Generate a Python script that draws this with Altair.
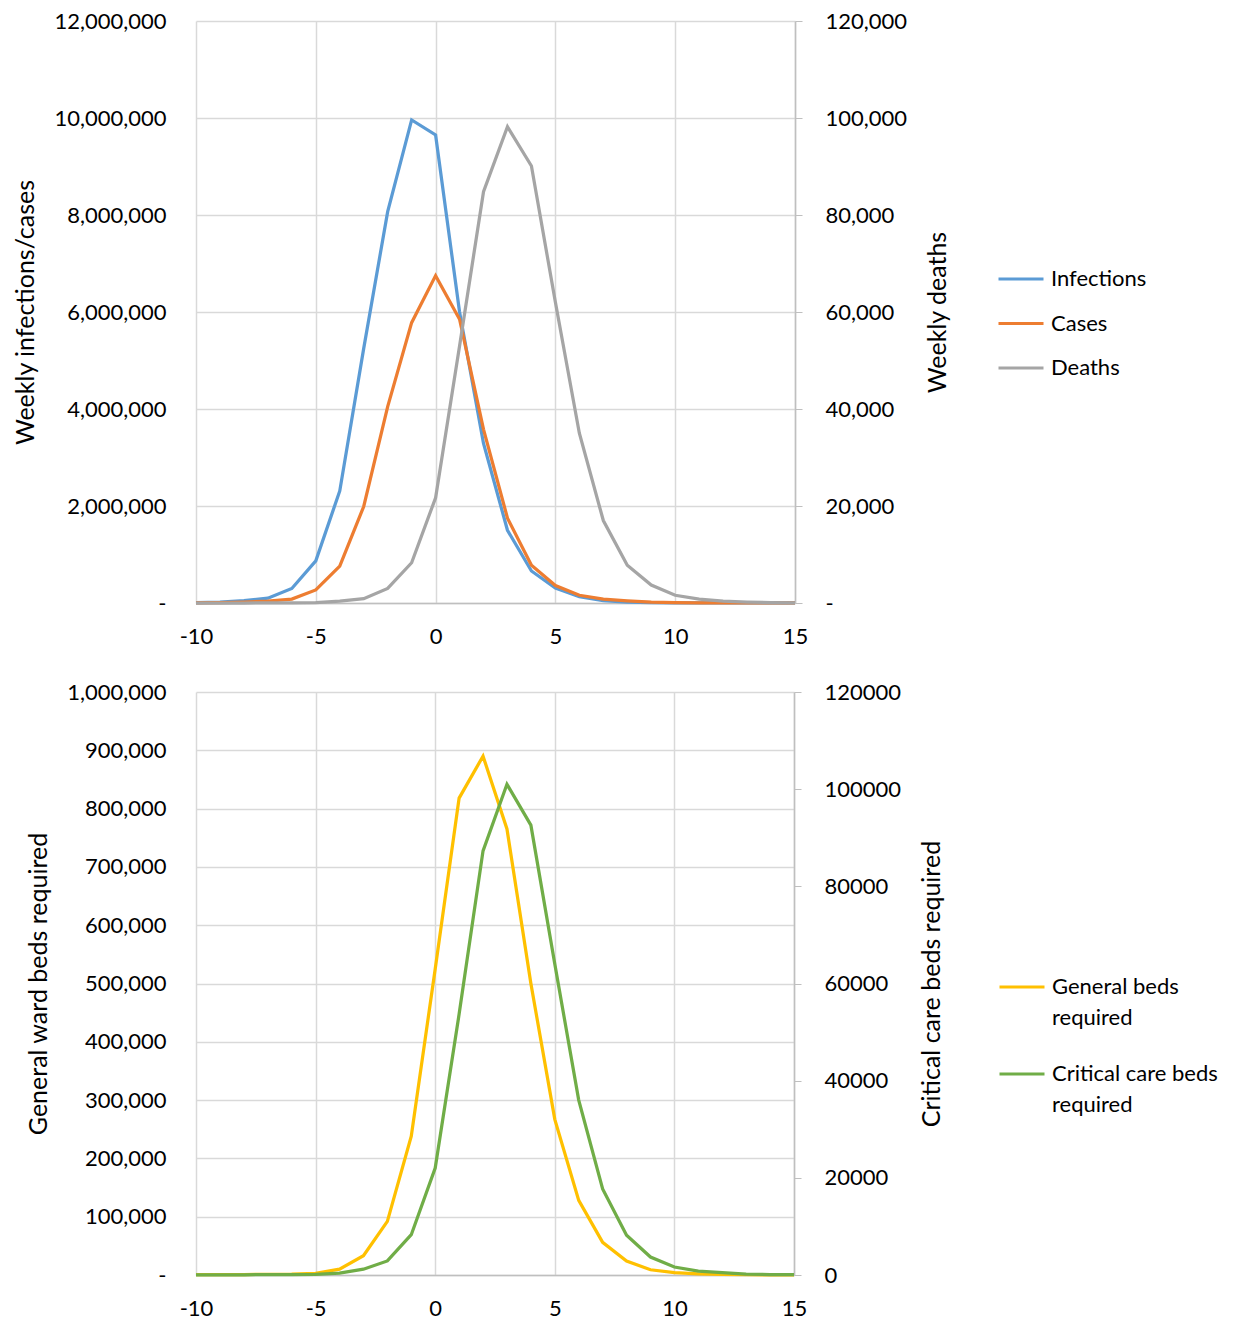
import altair as alt
import pandas as pd

FONT = "Lato"

weeks = [-10, -9, -8, -7, -6, -5, -4, -3, -2, -1, 0, 1, 2, 3, 4, 5, 6, 7, 8, 9, 10, 11, 12, 13, 14, 15]

infections = [10000, 20000, 50000, 100000, 300000, 870000, 2310000, 5250000, 8070000, 9960000,
              9650000, 6000000, 3290000, 1500000, 660000, 310000, 130000, 50000, 20000, 10000,
              5000, 2000, 1000, 500, 200, 100]
cases = [5000, 10000, 20000, 40000, 80000, 270000, 760000, 1990000, 4050000, 5780000,
         6750000, 5850000, 3580000, 1750000, 780000, 360000, 160000, 80000, 45000, 20000,
         10000, 5000, 2000, 1000, 500, 200]
deaths = [0, 0, 0, 10, 30, 100, 400, 900, 3000, 8300,
          21700, 53000, 84800, 98200, 90100, 62000, 35000, 17000, 7800, 3700,
          1600, 800, 400, 200, 100, 50]

general_beds = [500, 500, 800, 1000, 1500, 3000, 10000, 33000, 92000, 238000,
                525000, 818000, 890000, 765000, 500000, 267000, 128000, 56000, 24000, 9000,
                4000, 2000, 1000, 500, 300, 200]
critical_beds = [50, 50, 50, 80, 100, 150, 400, 1200, 2900, 8300,
                 22000, 53700, 87300, 101000, 92600, 64000, 36000, 17700, 8200, 3700,
                 1650, 800, 500, 200, 100, 100]

top_series = ["Infections", "Cases", "Deaths"]
top_colors = ["#5B9BD5", "#ED7D31", "#A5A5A5"]
bot_series = ["General beds required", "Critical care beds required"]
bot_colors = ["#FFC000", "#70AD47"]

x_ticks = [-10, -5, 0, 5, 10, 15]
top_left_ticks = [0, 2000000, 4000000, 6000000, 8000000, 10000000, 12000000]
top_right_ticks = [0, 20000, 40000, 60000, 80000, 100000, 120000]
bot_left_ticks = [0, 100000, 200000, 300000, 400000, 500000, 600000, 700000, 800000, 900000, 1000000]
bot_right_ticks = [0, 20000, 40000, 60000, 80000, 100000, 120000]

top_df = pd.DataFrame({
    "week": weeks * 3,
    "series": [top_series[0]] * len(weeks) + [top_series[1]] * len(weeks) + [top_series[2]] * len(weeks),
    "value": infections + cases + deaths,
})
bot_df = pd.DataFrame({
    "week": weeks * 2,
    "series": [bot_series[0]] * len(weeks) + [bot_series[1]] * len(weeks),
    "value": general_beds + critical_beds,
})

SW = 3.25
TITLE_FS = 25


def x_enc():
    return alt.X(
        "week:Q",
        scale=alt.Scale(domain=[-10, 15], nice=False, zero=False),
        axis=alt.Axis(values=x_ticks, title=None, ticks=False, tickSize=0, labelPadding=23,
                      labelFlush=False, labelExpr="'' + datum.value",
                      domain=True, domainColor="#BFBFBF", domainWidth=1.5, grid=True),
    )


def left_axis(ticks, title):
    return alt.Axis(
        values=ticks, title=title, orient="left", ticks=False, tickSize=0, labelPadding=30,
        domain=False, grid=True, titlePadding=15,
        labelExpr="datum.value == 0 ? '-' : format(datum.value, ',')",
    )


def right_axis(ticks, title, expr):
    return alt.Axis(
        values=ticks, title=title, orient="right", ticks=True, tickSize=7, tickColor="#BFBFBF",
        labelPadding=23, domain=True, domainColor="#BFBFBF", domainWidth=1.5, grid=False,
        titlePadding=19, titleAngle=270, titleBaseline="top", labelExpr=expr,
    )


def make_chart(use_style):
    leg_common = dict(
        title=None, orient="none", symbolType="stroke", symbolSize=2025, symbolStrokeWidth=3,
        labelFontSize=22, labelFont=FONT, labelColor="#000000", labelOffset=6, padding=0,
        labelLimit=400,
    )
    top_legend = alt.Legend(legendX=801, legendY=234, rowPadding=9.5, **leg_common)
    bot_legend = alt.Legend(
        legendX=802, legendY=271, rowPadding=21,
        labelExpr="datum.label == 'General beds required' ? ['General beds', 'required'] : ['Critical care beds', 'required']",
        labelBaseline="middle",
        **leg_common,
    )

    top_color = alt.Color("series:N", scale=alt.Scale(domain=top_series, range=top_colors), legend=top_legend)
    bot_color = alt.Color("series:N", scale=alt.Scale(domain=bot_series, range=bot_colors), legend=bot_legend)

    tbase = alt.Chart(top_df)
    t_left = tbase.transform_filter(
        alt.FieldOneOfPredicate(field="series", oneOf=top_series[:2])
    ).mark_line(strokeWidth=SW).encode(
        x=x_enc(),
        y=alt.Y("value:Q", scale=alt.Scale(domain=[0, 12000000], nice=False),
                axis=left_axis(top_left_ticks, "Weekly infections/cases")),
        color=top_color,
    )
    t_right = tbase.transform_filter(
        alt.FieldEqualPredicate(field="series", equal=top_series[2])
    ).mark_line(strokeWidth=SW).encode(
        x=x_enc(),
        y=alt.Y("value:Q", scale=alt.Scale(domain=[0, 120000], nice=False),
                axis=right_axis(top_right_ticks, "Weekly deaths",
                                "datum.value == 0 ? '-' : format(datum.value, ',')")),
        color=top_color,
    )
    top = alt.layer(t_left, t_right).resolve_scale(y="independent").properties(width=599, height=582)

    bbase = alt.Chart(bot_df)
    b_left = bbase.transform_filter(
        alt.FieldEqualPredicate(field="series", equal=bot_series[0])
    ).mark_line(strokeWidth=SW).encode(
        x=x_enc(),
        y=alt.Y("value:Q", scale=alt.Scale(domain=[0, 1000000], nice=False),
                axis=left_axis(bot_left_ticks, "General ward beds required")),
        color=bot_color,
    )
    b_right = bbase.transform_filter(
        alt.FieldEqualPredicate(field="series", equal=bot_series[1])
    ).mark_line(strokeWidth=SW).encode(
        x=x_enc(),
        y=alt.Y("value:Q", scale=alt.Scale(domain=[0, 120000], nice=False),
                axis=right_axis(bot_right_ticks, "Critical care beds required",
                                "format(datum.value, 'd')")),
        color=bot_color,
    )
    bottom = alt.layer(b_left, b_right).resolve_scale(y="independent").properties(width=598, height=583)

    chart = alt.vconcat(top, bottom, spacing=34).resolve_scale(
        color="independent", x="independent"
    ).properties(
        padding={"left": 5, "top": 2, "right": 5, "bottom": 5},
        background="white",
    )
    if use_style:
        chart = chart.configure(style={"guide-label": {"lineHeight": 31}})
    chart = chart.configure_view(stroke=None).configure_axis(
        labelFont=FONT, labelFontSize=22, labelColor="#000000",
        titleFont=FONT, titleFontSize=TITLE_FS, titleFontWeight="normal", titleColor="#000000",
        gridColor="#D9D9D9", gridWidth=1.5,
    )
    return chart


try:
    chart = make_chart(True)
    chart.to_dict()
except Exception:
    chart = make_chart(False)

chart.save("out.html", embed_options={"renderer": "svg", "actions": False})
